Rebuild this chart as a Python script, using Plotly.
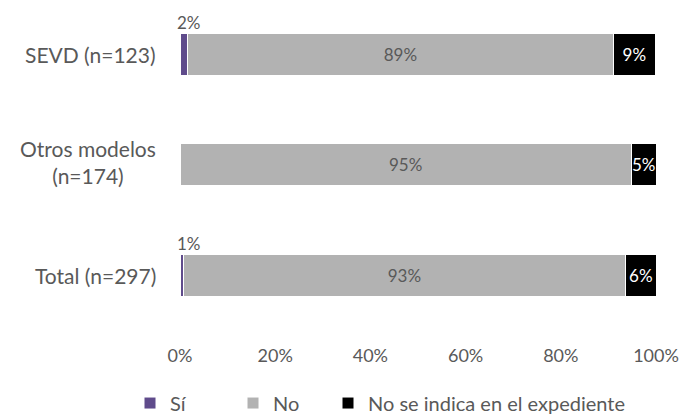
import plotly.graph_objects as go

categories = ["SEVD (n=123)", "Otros modelos<br>(n=174)", "Total (n=297)"]
si_vals = [1.6, 0.0, 0.7]
no_vals = [89.4, 94.8, 92.9]
nsi_vals = [8.9, 5.2, 6.4]
si_labels = ["2%", "", "1%"]
no_labels = ["89%", "95%", "93%"]
nsi_labels = ["9%", "5%", "6%"]
series_names = ["Sí", "No", "No se indica en el expediente"]
colors = ["#5F4B8B", "#B2B2B2", "#000000"]
x_ticks = [0, 20, 40, 60, 80, 100]
x_tick_labels = ["0%", "20%", "40%", "60%", "80%", "100%"]

FONT = "Lato"
GREY = "#595959"
ycat = [0, 1, 2]

fig = go.Figure()
fig.add_trace(go.Bar(
    y=ycat, x=si_vals, orientation="h", name=series_names[0], legend="legend",
    marker=dict(color=colors[0], line=dict(color="white", width=1)),
    textposition="none", hoverinfo="x",
))
fig.add_trace(go.Bar(
    y=ycat, x=no_vals, orientation="h", name=series_names[1], legend="legend2",
    marker=dict(color=colors[1], line=dict(color="white", width=1)),
    text=no_labels, textposition="inside", insidetextanchor="middle", textangle=0,
    insidetextfont=dict(family=FONT, size=18, color=GREY),
))
fig.add_trace(go.Bar(
    y=ycat, x=nsi_vals, orientation="h", name=series_names[2], legend="legend3",
    marker=dict(color=colors[2], line=dict(color="white", width=1)),
    text=nsi_labels, textposition="inside", insidetextanchor="middle", textangle=0,
    insidetextfont=dict(family=FONT, size=17, color="white"),
))

annotations = []
for i, lab in enumerate(si_labels):
    if lab:
        annotations.append(dict(x=0, y=ycat[i], xref="x", yref="y", text=lab,
                                showarrow=False, xanchor="left", yanchor="middle",
                                xshift=-5, yshift=32,
                                font=dict(family=FONT, size=17, color=GREY)))
for i, cat in enumerate(categories):
    annotations.append(dict(x=-0.046, y=ycat[i], xref="paper", yref="y", text=cat,
                            showarrow=False, xanchor="right", yanchor="middle",
                            align="center", yshift=3 if "<br>" in cat else 0,
                            font=dict(family=FONT, size=21, color=GREY)))

PLOT_L, PLOT_W = 180, 476


def leg(px):
    return dict(orientation="h", x=(px - PLOT_L) / PLOT_W, xanchor="left",
                y=-0.197, yanchor="middle", bgcolor="rgba(0,0,0,0)",
                font=dict(family=FONT, size=20, color=GREY), itemwidth=30)


fig.update_layout(
    barmode="stack",
    bargap=0.62,
    width=682, height=416,
    margin=dict(l=180, r=26, t=20, b=76, autoexpand=False),
    paper_bgcolor="white", plot_bgcolor="white",
    font=dict(family=FONT, color=GREY),
    uniformtext=dict(minsize=16, mode="show"),
    xaxis=dict(range=[0, 100], tickvals=x_ticks, ticktext=x_tick_labels, showgrid=False,
               zeroline=False, showline=False, tickfont=dict(family=FONT, size=18, color=GREY),
               ticklabelstandoff=3),
    yaxis=dict(range=[2.588, -0.308], showticklabels=False, showgrid=False,
               zeroline=False, showline=False),
    showlegend=True,
    legend=leg(130),
    legend2=leg(233),
    legend3=leg(328),
    annotations=annotations,
)

fig.write_html("out.html", config={"displayModeBar": False},
               post_script="document.body.style.margin='0';")
